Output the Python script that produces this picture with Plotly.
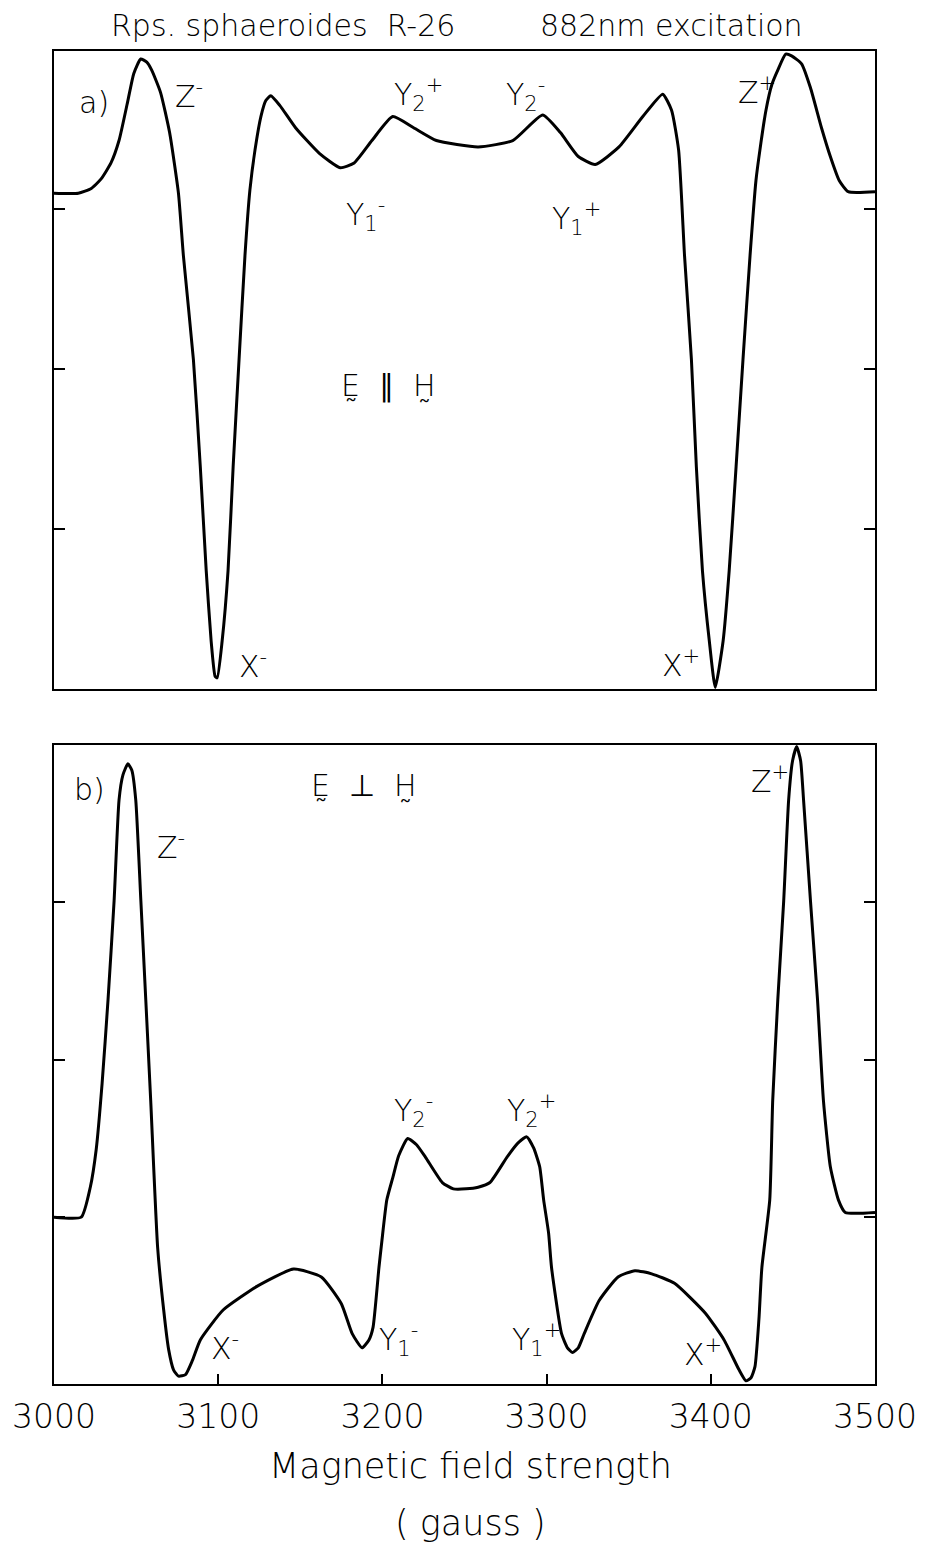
import plotly.graph_objects as go

# magnetic field (gauss) and signal (arb. units)
field_a = [3000, 3014.8, 3022.7, 3028.7, 3034.7, 3039.6, 3045.0, 3048.6, 3052.8, 3056.5,
           3059.5, 3064.9, 3070.4, 3075.8, 3078.8, 3084.9, 3089.1, 3092.7, 3095.7, 3098.1,
           3099.4, 3102.4, 3106.0, 3109.1, 3112.7, 3116.3, 3119.3, 3122.4, 3126.0, 3129.0,
           3132.0, 3137.5, 3147.1, 3161.6, 3174.3, 3182.8, 3193.6, 3206.3, 3219.0, 3232.9,
           3258.3, 3279.4, 3297.6, 3308.4, 3319.3, 3329.6, 3344.1, 3358.6, 3370.7, 3376.1,
           3380.4, 3384.0, 3388.2, 3391.2, 3394.9, 3399.1, 3402.7, 3407.5, 3411.2, 3415.4,
           3419.6, 3423.9, 3427.5, 3429.9, 3433.6, 3437.2, 3440.8, 3445.6, 3449.2, 3455.3,
           3460.7, 3467.4, 3472.8, 3478.2, 3483.7, 3500]
signal_a = [3.10, 3.10, 3.13, 3.19, 3.29, 3.43, 3.68, 3.85, 3.94, 3.92,
            3.87, 3.73, 3.48, 3.10, 2.71, 2.06, 1.39, 0.74, 0.30, 0.08,
            0.07, 0.30, 0.74, 1.39, 2.06, 2.71, 3.12, 3.37, 3.58, 3.68,
            3.71, 3.65, 3.51, 3.35, 3.26, 3.29, 3.43, 3.58, 3.51, 3.43,
            3.39, 3.43, 3.59, 3.48, 3.33, 3.28, 3.39, 3.58, 3.72, 3.62,
            3.37, 2.71, 2.06, 1.39, 0.74, 0.30, 0.01, 0.30, 0.74, 1.39,
            2.06, 2.71, 3.18, 3.37, 3.62, 3.78, 3.87, 3.97, 3.96, 3.91,
            3.76, 3.51, 3.33, 3.18, 3.11, 3.11]

field_b = [3000, 3016.6, 3022.1, 3025.7, 3029.3, 3032.9, 3036.6, 3039.6, 3042.0, 3045.0,
           3047.4, 3049.8, 3052.9, 3055.9, 3058.9, 3063.1, 3066.8, 3069.8, 3072.8, 3075.8,
           3080.1, 3084.3, 3089.1, 3103.0, 3123.6, 3145.9, 3162.8, 3175.0, 3181.6, 3187.6,
           3191.8, 3194.3, 3197.9, 3199.7, 3202.7, 3206.3, 3209.9, 3215.4, 3220.8, 3226.3,
           3236.5, 3243.2, 3251.0, 3258.3, 3265.5, 3275.8, 3282.5, 3287.9, 3292.1, 3295.8,
           3298.2, 3301.2, 3303.0, 3309.1, 3312.7, 3315.7, 3319.3, 3322.9, 3332.0, 3343.5,
           3353.8, 3364.0, 3377.9, 3396.7, 3408.1, 3417.2, 3421.4, 3424.5, 3426.9, 3429.3,
           3431.1, 3435.9, 3437.7, 3440.8, 3444.4, 3447.4, 3449.8, 3452.3, 3454.7, 3456.5,
           3460.7, 3465.0, 3468.6, 3472.8, 3477.7, 3481.9, 3500]
signal_b = [1.00, 1.00, 1.19, 1.43, 1.85, 2.38, 3.01, 3.65, 3.81, 3.88,
            3.84, 3.65, 3.01, 2.38, 1.74, 0.81, 0.41, 0.16, 0.03, -0.01,
            0.00, 0.09, 0.22, 0.41, 0.56, 0.67, 0.62, 0.45, 0.26, 0.17,
            0.22, 0.30, 0.68, 0.85, 1.11, 1.25, 1.39, 1.50, 1.46, 1.38,
            1.22, 1.18, 1.18, 1.19, 1.22, 1.38, 1.47, 1.51, 1.44, 1.32,
            1.11, 0.90, 0.68, 0.26, 0.17, 0.14, 0.17, 0.26, 0.47, 0.62,
            0.66, 0.64, 0.58, 0.39, 0.22, 0.03, -0.04, -0.02, 0.05, 0.35,
            0.68, 1.11, 1.74, 2.38, 3.01, 3.65, 3.90, 3.99, 3.90, 3.65,
            3.01, 2.38, 1.74, 1.32, 1.11, 1.03, 1.03]

# peak labels: (text, field, signal)
labels_a = [
    ("a)", 3024.5, 3.67),
    ("Z<sup>-</sup>", 3082, 3.72),
    ("Y<sub>2</sub><sup>+</sup>", 3222, 3.72),
    ("Y<sub>2</sub><sup>-</sup>", 3287, 3.72),
    ("Z<sup>+</sup>", 3428, 3.74),
    ("Y<sub>1</sub><sup>-</sup>", 3190, 2.97),
    ("Y<sub>1</sub><sup>+</sup>", 3318, 2.94),
    ("X<sup>-</sup>", 3121, 0.15),
    ("X<sup>+</sup>", 3382, 0.16),
    ("E\u0330  \u2225  H\u0330", 3204, 1.90),
]
labels_b = [
    ("b)", 3021.5, 3.72),
    ("Z<sup>-</sup>", 3071, 3.36),
    ("E\u0330  \u22a5  H\u0330", 3189, 3.74),
    ("Z<sup>+</sup>", 3436, 3.78),
    ("Y<sub>2</sub><sup>-</sup>", 3219, 1.68),
    ("Y<sub>2</sub><sup>+</sup>", 3291, 1.68),
    ("Y<sub>1</sub><sup>-</sup>", 3210, 0.22),
    ("Y<sub>1</sub><sup>+</sup>", 3294, 0.22),
    ("X<sup>-</sup>", 3104, 0.18),
    ("X<sup>+</sup>", 3395, 0.14),
]

tick_fields = [3000, 3100, 3200, 3300, 3400, 3500]

FONT = "DejaVu Sans"

fig = go.Figure()

fig.add_trace(go.Scatter(
    x=field_a, y=signal_a, mode="lines", xaxis="x", yaxis="y",
    line=dict(color="black", width=3, shape="spline", smoothing=0.5),
    showlegend=False, hoverinfo="skip",
))
fig.add_trace(go.Scatter(
    x=field_b, y=signal_b, mode="lines", xaxis="x2", yaxis="y2",
    line=dict(color="black", width=3, shape="spline", smoothing=0.5),
    showlegend=False, hoverinfo="skip",
))

for text, gx, gy in labels_a:
    fig.add_annotation(x=gx, y=gy, xref="x", yref="y", text=text, showarrow=False,
                       xanchor="center", yanchor="middle",
                       font=dict(family=FONT, size=30, color="black", weight=200))
for text, gx, gy in labels_b:
    fig.add_annotation(x=gx, y=gy, xref="x2", yref="y2", text=text, showarrow=False,
                       xanchor="center", yanchor="middle",
                       font=dict(family=FONT, size=30, color="black", weight=200))

# header and axis title
fig.add_annotation(x=0.2786, y=1.019, xref="paper", yref="paper",
                   xanchor="center", yanchor="middle",
                   text="Rps. sphaeroides  R-26", showarrow=False,
                   font=dict(family=FONT, size=30, color="black", weight=200))
fig.add_annotation(x=0.752, y=1.019, xref="paper", yref="paper",
                   xanchor="center", yanchor="middle",
                   text="882nm excitation", showarrow=False,
                   font=dict(family=FONT, size=30, color="black", weight=200))
fig.add_annotation(x=0.507, y=-0.0615, xref="paper", yref="paper",
                   xanchor="center", yanchor="middle",
                   text="Magnetic field strength", showarrow=False,
                   font=dict(family=FONT, size=35, color="black", weight=200))
fig.add_annotation(x=0.507, y=-0.1045, xref="paper", yref="paper",
                   xanchor="center", yanchor="middle",
                   text="( gauss )", showarrow=False,
                   font=dict(family=FONT, size=35, color="black", weight=200))

yax = dict(showline=True, linecolor="black", linewidth=2, mirror="allticks",
           ticks="inside", ticklen=11, tickwidth=2, tickcolor="black",
           tickvals=[1, 2, 3], showticklabels=False, showgrid=False, zeroline=False)

fig.update_layout(
    width=929, height=1543,
    margin=dict(l=52, r=49, t=51, b=159),
    paper_bgcolor="white", plot_bgcolor="white",
    xaxis=dict(range=[3000, 3500], domain=[0, 1], anchor="y",
               showline=True, linecolor="black", linewidth=2, mirror=True,
               ticks="", showticklabels=False, showgrid=False, zeroline=False),
    yaxis=dict(range=[0, 3.99], domain=[0.5214, 1], anchor="x", **yax),
    xaxis2=dict(range=[3000, 3500], domain=[0, 1], anchor="y2",
                showline=True, linecolor="black", linewidth=2, mirror=True,
                ticks="inside", ticklen=10, tickwidth=2, tickcolor="black",
                tickvals=tick_fields, ticktext=[str(v) for v in tick_fields],
                ticklabelstandoff=2,
                tickfont=dict(family=FONT, size=33, color="black", weight=200),
                showgrid=False, zeroline=False),
    yaxis2=dict(range=[-0.06, 4.0], domain=[0, 0.4794], anchor="x2", **yax),
)

# the page's default 8px body margin would shift the figure; drop it
fig.write_html("out.html", config={"displayModeBar": False},
               post_script="document.body.style.margin = '0px';")
